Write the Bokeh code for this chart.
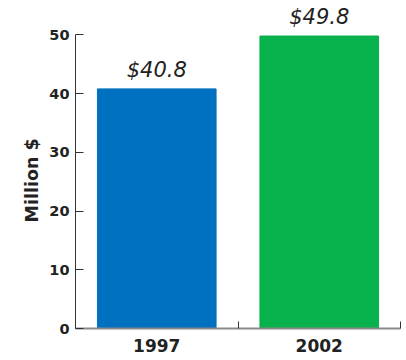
from bokeh.plotting import figure
from bokeh.models import ColumnDataSource, FixedTicker, Range1d, Title
from bokeh.core.properties import value
from bokeh.embed import file_html
from bokeh.resources import INLINE

categories = ["1997", "2002"]
values = [40.8, 49.8]
labels = ["$40.8", "$49.8"]
colors = ["#0070C0", "#07B14B"]
y_ticks = [0, 10, 20, 30, 40, 50]
y_title = "Million $"

xs = [i + 0.5 for i in range(len(categories))]
src = ColumnDataSource(dict(x=xs, top=values, label=labels, color=colors))

p = figure(width=406, height=360, output_backend="svg", toolbar_location=None,
           x_range=Range1d(0, 2), y_range=Range1d(0, 55),
           min_border_left=75, min_border_right=6, min_border_top=5, min_border_bottom=32)
p.outline_line_color = None
p.xgrid.visible = False
p.ygrid.visible = False
p.background_fill_color = "white"
p.border_fill_color = "white"

p.vbar(x="x", top="top", width=0.73, bottom=0, color="color", source=src)
p.text(x="x", y="top", text="label", source=src, text_align="center",
       text_baseline="bottom", y_offset=-7,
       text_font=value("DejaVu Sans"), text_font_style="italic",
       text_font_size="21px", text_color="#222222")

# Y axis
ya = p.yaxis[0]
ya.ticker = FixedTicker(ticks=y_ticks)
ya.bounds = (0, 50)
ya.major_tick_in = 8
ya.major_tick_out = 0
ya.minor_tick_line_color = None
ya.axis_line_color = "#333333"
ya.major_tick_line_color = "#333333"
ya.major_label_text_font = "DejaVu Sans"
ya.major_label_text_font_style = "bold"
ya.major_label_text_font_size = "14.5px"
ya.major_label_text_color = "#222222"
ya.major_label_standoff = 6

title = Title(text=y_title, align="left", offset=106, standoff=10,
              text_font="DejaVu Sans", text_font_style="bold",
              text_font_size="17.5px", text_color="#222222")
p.add_layout(title, "left")

# X axis
xa = p.xaxis[0]
xa.ticker = FixedTicker(ticks=xs, minor_ticks=[0, 1, 2])
xa.major_label_overrides = {x: c for x, c in zip(xs, categories)}
xa.major_tick_in = 0
xa.major_tick_out = 0
xa.minor_tick_in = 7
xa.minor_tick_out = 0
xa.minor_tick_line_color = "#333333"
xa.axis_line_color = "#8a8a8a"
xa.axis_line_width = 2
xa.major_label_text_font = "DejaVu Sans"
xa.major_label_text_font_style = "bold"
xa.major_label_text_font_size = "17px"
xa.major_label_text_color = "#222222"
xa.major_label_standoff = 10

open("out.html", "w").write(file_html(p, INLINE))
